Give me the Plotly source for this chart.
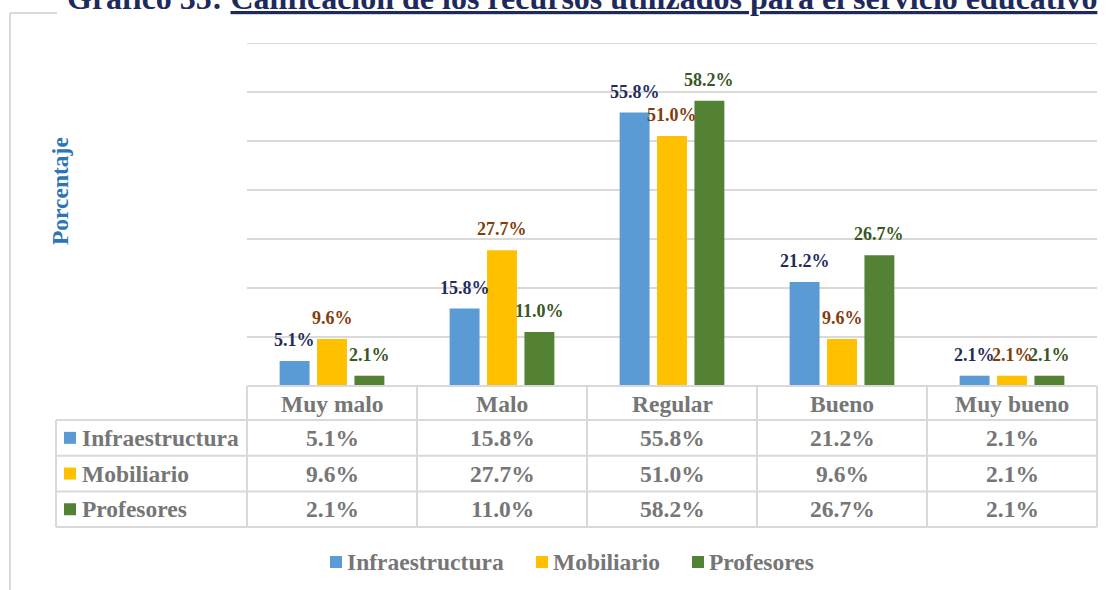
import plotly.graph_objects as go

# --- data -----------------------------------------------------------------
categorias = ["Muy malo", "Malo", "Regular", "Bueno", "Muy bueno"]
series = ["Infraestructura", "Mobiliario", "Profesores"]
infraestructura = [5.1, 15.8, 55.8, 21.2, 2.1]
mobiliario = [9.6, 27.7, 51.0, 9.6, 2.1]
profesores = [2.1, 11.0, 58.2, 26.7, 2.1]

titulo_prefijo = "Gráfico 35: "
titulo = "Calificación de los recursos utilizados para el servicio educativo"
eje_y = "Porcentaje"

# --- style ----------------------------------------------------------------
W, H = 1110, 590
PL, PR, PT, PB = 247, 1097, 43, 386          # plot area in pixels
FONT = "Liberation Serif"
bar_colors = ["#5B9BD5", "#FFC000", "#548235"]
label_colors = ["#1F2D5E", "#843C0C", "#385723"]
grid = "#D9D9D9"
table_text = "#767676"
Y_MAX = 70

valores = [infraestructura, mobiliario, profesores]


def px_x(x):
    return (x - PL) / (PR - PL)


def px_y(y):
    return (PB - y) / (PB - PT)


fig = go.Figure()
for nombre, vals, col in zip(series, valores, bar_colors):
    fig.add_trace(go.Bar(name=nombre, x=categorias, y=vals,
                         marker=dict(color=col, line=dict(width=0)),
                         showlegend=False, hoverinfo="x+y+name"))

bargap, bargroupgap = 0.34, 0.2
cat_w = (PR - PL) / len(categorias)
slot = cat_w * (1 - bargap) / len(series)

shapes, annotations = [], []

# gridline on the upper edge of the value range
shapes.append(dict(type="line", xref="paper", yref="y", x0=0, x1=1,
                   y0=Y_MAX, y1=Y_MAX, line=dict(color=grid, width=2), layer="below"))

# value labels above each bar
for i, (vals, lc) in enumerate(zip(valores, label_colors)):
    offset = (i - (len(series) - 1) / 2) * slot
    for c, v in zip(categorias, vals):
        annotations.append(dict(
            x=c, y=v, xref="x", yref="y", xshift=offset, yshift=21,
            text=f"<b>{v:.1f}%</b>", showarrow=False,
            xanchor="center", yanchor="middle",
            font=dict(family=FONT, size=18, color=lc)))

# chart frame (partly hidden behind the title)
line = dict(color=grid, width=2)
shapes.append(dict(type="line", xref="paper", yref="paper",
                   x0=px_x(10), x1=px_x(10), y0=px_y(13), y1=px_y(592), line=line))
shapes.append(dict(type="line", xref="paper", yref="paper",
                   x0=px_x(10), x1=px_x(57), y0=px_y(13), y1=px_y(13), line=line))

# data table under the plot
row_left = 56
header_bottom = 420
row_h = 35.7
n_rows = len(series)
table_bottom = header_bottom + n_rows * row_h
col_edges = [PL + k * cat_w for k in range(len(categorias) + 1)]

for k, xe in enumerate(col_edges):
    shapes.append(dict(type="line", xref="paper", yref="paper",
                       x0=px_x(xe), x1=px_x(xe), y0=px_y(PB), y1=px_y(table_bottom),
                       line=line))
shapes.append(dict(type="line", xref="paper", yref="paper",
                   x0=px_x(row_left), x1=px_x(row_left),
                   y0=px_y(header_bottom), y1=px_y(table_bottom), line=line))
shapes.append(dict(type="line", xref="paper", yref="paper",
                   x0=px_x(PL), x1=px_x(PR), y0=px_y(PB), y1=px_y(PB), line=line))
for r in range(n_rows + 1):
    yy = header_bottom + r * row_h
    shapes.append(dict(type="line", xref="paper", yref="paper",
                       x0=px_x(row_left), x1=px_x(PR), y0=px_y(yy), y1=px_y(yy),
                       line=line))

tfont = dict(family=FONT, size=23.5, color=table_text)
for c in categorias:
    annotations.append(dict(x=c, xref="x", y=px_y((PB + header_bottom) / 2 + 1),
                            yref="paper", text=f"<b>{c}</b>", showarrow=False,
                            xanchor="center", yanchor="middle", font=tfont))

for r, (nombre, vals, col) in enumerate(zip(series, valores, bar_colors)):
    yc = header_bottom + (r + 0.5) * row_h
    shapes.append(dict(type="rect", xref="paper", yref="paper",
                       x0=px_x(64), x1=px_x(76), y0=px_y(yc - 6), y1=px_y(yc + 6),
                       fillcolor=col, line=dict(width=0)))
    annotations.append(dict(x=px_x(80), xref="paper", y=px_y(yc), yref="paper",
                            text=f"<b>{nombre}</b>", showarrow=False,
                            xanchor="left", yanchor="middle", font=tfont))
    for c, v in zip(categorias, vals):
        annotations.append(dict(x=c, xref="x", y=px_y(yc), yref="paper",
                                text=f"<b>{v:.1f}%</b>", showarrow=False,
                                xanchor="center", yanchor="middle", font=tfont))

# legend row
legend_y = 562
legend_sq = [330, 536, 692]
for nombre, col, sx in zip(series, bar_colors, legend_sq):
    shapes.append(dict(type="rect", xref="paper", yref="paper",
                       x0=px_x(sx), x1=px_x(sx + 12),
                       y0=px_y(legend_y - 6), y1=px_y(legend_y + 6),
                       fillcolor=col, line=dict(width=0)))
    annotations.append(dict(x=px_x(sx + 15), xref="paper", y=px_y(legend_y),
                            yref="paper", text=f"<b>{nombre}</b>", showarrow=False,
                            xanchor="left", yanchor="middle", font=tfont))

# title and y-axis title
annotations.append(dict(x=px_x(65), xref="paper", y=px_y(18), yref="paper",
                        text=f"<b>{titulo_prefijo}<u>{titulo}</u></b>",
                        showarrow=False, xanchor="left", yanchor="bottom",
                        bgcolor="white",
                        font=dict(family=FONT, size=32, color="#1F2A5C")))
annotations.append(dict(x=px_x(60), xref="paper", y=px_y(191), yref="paper",
                        text=f"<b>{eje_y}</b>", textangle=-90, showarrow=False,
                        xanchor="center", yanchor="middle",
                        font=dict(family=FONT, size=23.5, color="#2E75B6")))

fig.update_layout(
    width=W, height=H,
    margin=dict(l=PL, r=W - PR, t=PT, b=H - PB, pad=0),
    paper_bgcolor="white", plot_bgcolor="white",
    barmode="group", bargap=bargap, bargroupgap=bargroupgap,
    xaxis=dict(showticklabels=False, showgrid=False, zeroline=False,
               showline=False, ticks=""),
    yaxis=dict(range=[0, Y_MAX], dtick=10, showticklabels=False, ticks="",
               showgrid=True, gridcolor=grid, gridwidth=2, zeroline=False,
               showline=False),
    shapes=shapes, annotations=annotations,
    font=dict(family=FONT),
)

fig.write_html("out.html")
